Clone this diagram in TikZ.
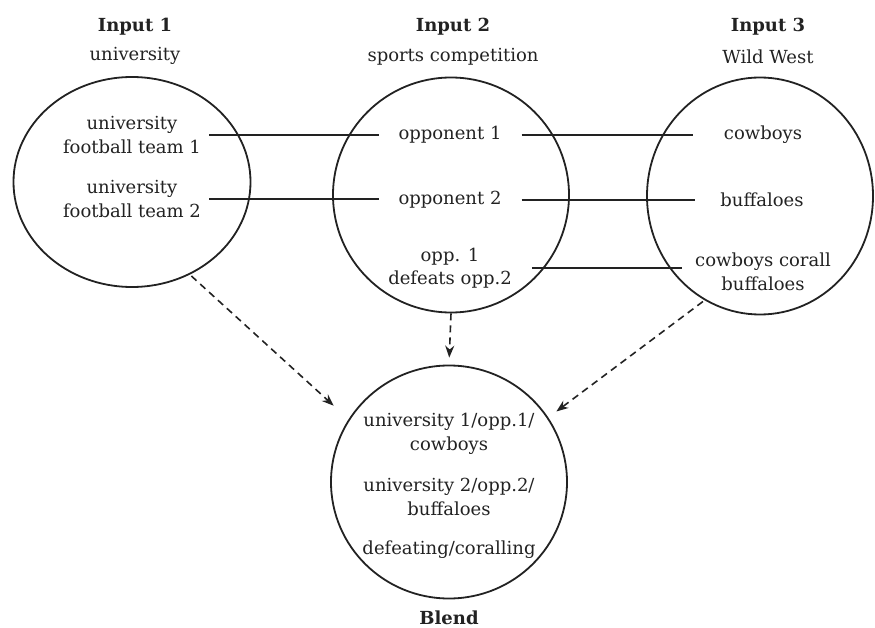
\documentclass[tikz,border=0pt]{standalone}
\usepackage{fontspec}
\setmainfont{DejaVu Serif}
\usetikzlibrary{shapes.geometric,arrows.meta}
\definecolor{ink}{HTML}{222222}
\begin{document}
\begin{tikzpicture}[x=1pt,y=-1pt,
  blob/.style={ellipse, draw=ink, line width=1.8pt, inner sep=0pt},
  lbl/.style={align=center, font=\fontsize{18}{23.5}\selectfont, text=ink, inner sep=0pt},
  head/.style={align=center, font=\fontsize{18}{23.5}\selectfont\bfseries, text=ink, inner sep=0pt},
  link/.style={draw=ink, line width=1.6pt},
  dasharrow/.style={draw=ink, line width=1.6pt, dash pattern=on 7pt off 5pt, -{Stealth[length=12pt,width=9pt]}}
]
\useasboundingbox (0,0) rectangle (875,628);

% titles
\node[head] (h1) at (135,27) {Input 1};
\node[lbl]  (s1) at (135,56) {university};
\node[head] (h2) at (453,27) {Input 2};
\node[lbl]  (s2) at (453,57) {sports competition};
\node[head] (h3) at (768,27) {Input 3};
\node[lbl]  (s3) at (768,57) {Wild West};

% circles
\node[blob, minimum width=237pt, minimum height=210pt] (c1) at (132,182) {};
\node[blob, minimum width=236pt, minimum height=235pt] (c2) at (451,195) {};
\node[blob, minimum width=226pt, minimum height=237pt] (c3) at (760,196) {};
\node[blob, minimum width=236pt, minimum height=233pt] (c4) at (449,482) {};
\node[head] (bl) at (449,618) {Blend};

% input 1 contents
\node[lbl] (a1) at (132,135) {university\\football team 1};
\node[lbl] (a2) at (132,199) {university\\football team 2};
% input 2 contents
\node[lbl] (b1) at (450,135) {opponent 1};
\node[lbl] (b2) at (450,200) {opponent 2};
\node[lbl] (b3) at (450,268) {opp. 1\\defeats opp.2};
% input 3 contents
\node[lbl] (d1) at (763,135) {cowboys};
\node[lbl] (d2) at (762,200) {buffaloes};
\node[lbl] (d3) at (763,272) {cowboys corall\\buffaloes};
% blend contents
\node[lbl] (e1) at (449,434) {university 1/opp.1/\\cowboys};
\node[lbl] (e2) at (449,497) {university 2/opp.2/\\buffaloes};
\node[lbl] (e3) at (449,550) {defeating/coralling};

% cross-space mappings
\draw[link, shorten <=8pt, shorten >=19pt] (a1.east) -- (a1.east -| b1.west);
\draw[link, shorten <=20pt, shorten >=31pt] (b1.east) -- (b1.east -| d1.west);
\draw[link, shorten <=8pt, shorten >=19pt] (a2.east) -- (a2.east -| b2.west);
\draw[link, shorten <=20pt, shorten >=25pt] (b2.east) -- (b2.east -| d2.west);
\draw[link, shorten <=20pt, shorten >=13pt] (b3.east) -- (b3.east -| d3.west);

% projections to blend
\draw[dasharrow, shorten <=2pt, shorten >=20pt] (c1.-58) -- (c4.148);
\draw[dasharrow, shorten >=7pt] (c2.south) -- (c4.north);
\draw[dasharrow, shorten <=2pt, shorten >=10pt] (c3.-118) -- (c4.33);
\end{tikzpicture}
\end{document}
